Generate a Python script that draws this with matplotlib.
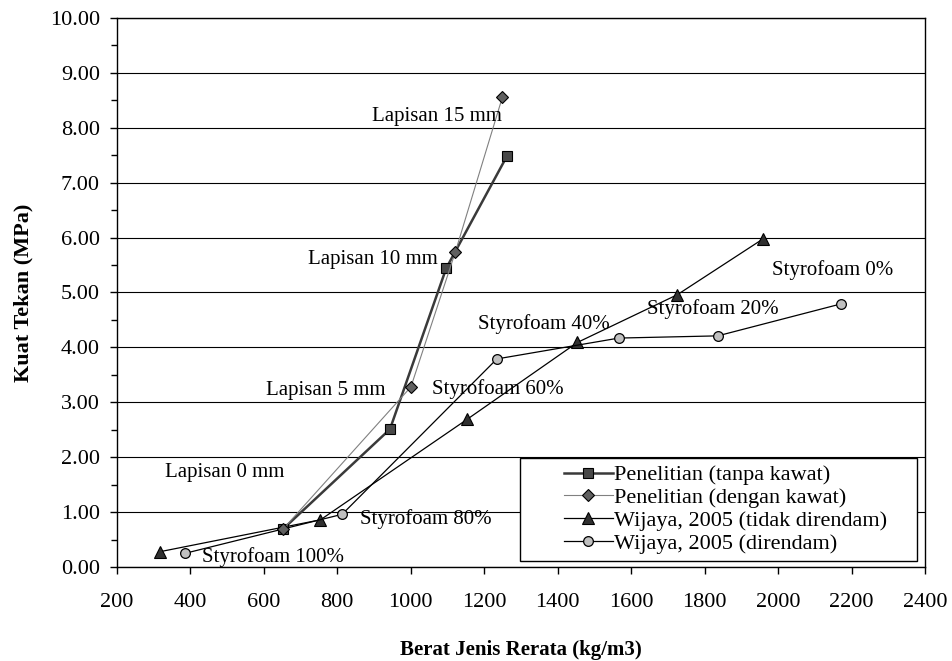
import matplotlib.pyplot as plt
from matplotlib.patches import Rectangle
from matplotlib.ticker import MultipleLocator, FormatStrFormatter

plt.rcParams['font.family'] = ['Liberation Serif', 'DejaVu Serif']

# Data
x_tanpa = [653, 944, 1097, 1262]
y_tanpa = [0.69, 2.51, 5.44, 7.48]

x_dengan = [653, 1001, 1122, 1250]
y_dengan = [0.69, 3.28, 5.74, 8.56]

x_wij_tidak = [319, 755, 1154, 1454, 1726, 1960]
y_wij_tidak = [0.28, 0.86, 2.69, 4.09, 4.96, 5.98]

x_wij_rendam = [387, 814, 1235, 1567, 1836, 2170]
y_wij_rendam = [0.25, 0.96, 3.79, 4.17, 4.21, 4.79]

labels_lapisan = ['Lapisan 0 mm', 'Lapisan 5 mm', 'Lapisan 10 mm', 'Lapisan 15 mm']
pos_lapisan = [(332, 1.73), (607, 3.22), (721, 5.61), (895, 8.21)]

labels_styro = ['Styrofoam 100%', 'Styrofoam 80%', 'Styrofoam 60%',
                'Styrofoam 40%', 'Styrofoam 20%', 'Styrofoam 0%']
pos_styro = [(433, 0.18), (863, 0.87), (1059, 3.24),
             (1184, 4.43), (1644, 4.69), (1983, 5.41)]

fig = plt.figure(figsize=(9.52, 6.61), dpi=100)
ax = fig.add_axes([0.1224, 0.1422, 0.8493, 0.8306])

ax.plot(x_tanpa, y_tanpa, color='#3a3a3a', lw=1.8, marker='s', ms=7,
        mfc='#484848', mec='black', mew=0.8, label='Penelitian (tanpa kawat)', zorder=4)
ax.plot(x_dengan, y_dengan, color='#808080', lw=0.8, marker='D', ms=6,
        mfc='#606060', mec='black', mew=0.8, label='Penelitian (dengan kawat)', zorder=4)
ax.plot(x_wij_tidak, y_wij_tidak, color='black', lw=0.9, marker='^', ms=8,
        mfc='#303030', mec='black', mew=0.8, label='Wijaya, 2005 (tidak direndam)', zorder=3)
ax.plot(x_wij_rendam, y_wij_rendam, color='black', lw=0.9, marker='o', ms=7,
        mfc='#c0c0c0', mec='black', mew=0.9, label='Wijaya, 2005 (direndam)', zorder=3)

for txt, (tx, ty) in zip(labels_lapisan, pos_lapisan):
    ax.text(tx, ty, txt, fontsize=15, va='center', ha='left', zorder=5)
for txt, (tx, ty) in zip(labels_styro, pos_styro):
    ax.text(tx, ty, txt, fontsize=15, va='center', ha='left', zorder=5)

ax.set_xlim(200, 2400)
ax.set_ylim(0, 10)
ax.xaxis.set_major_locator(MultipleLocator(200))
ax.yaxis.set_major_locator(MultipleLocator(1))
ax.yaxis.set_minor_locator(MultipleLocator(0.5))
ax.yaxis.set_major_formatter(FormatStrFormatter('%.2f'))
ax.tick_params(axis='both', which='major', direction='out', length=5, width=1, labelsize=16)
ax.tick_params(axis='y', which='minor', direction='out', length=4, width=1)
ax.tick_params(axis='x', pad=14)
ax.tick_params(axis='y', pad=7)

ax.grid(axis='y', which='major', color='black', lw=0.8)
ax.set_axisbelow(True)
for s in ax.spines.values():
    s.set_color('black')
    s.set_linewidth(1)

ax.set_xlabel('Berat Jenis Rerata (kg/m3)', fontsize=15, fontweight='bold', labelpad=20)
ax.set_ylabel('Kuat Tekan (MPa)', fontsize=16, fontweight='bold', labelpad=12)

# legend box drawn separately so the entries sit centred like the original
ax.add_patch(Rectangle((0.499, 0.011), 0.491, 0.1875, transform=ax.transAxes,
                       facecolor='white', edgecolor='black', lw=1, zorder=6))
leg = ax.legend(loc='center left', bbox_to_anchor=(0.5535, 0.105), fontsize=16,
                frameon=False, borderpad=0, labelspacing=0.1, handlelength=2.2,
                handletextpad=0.05, borderaxespad=0)
leg.set_zorder(7)

fig.savefig('out.png', dpi=100)
